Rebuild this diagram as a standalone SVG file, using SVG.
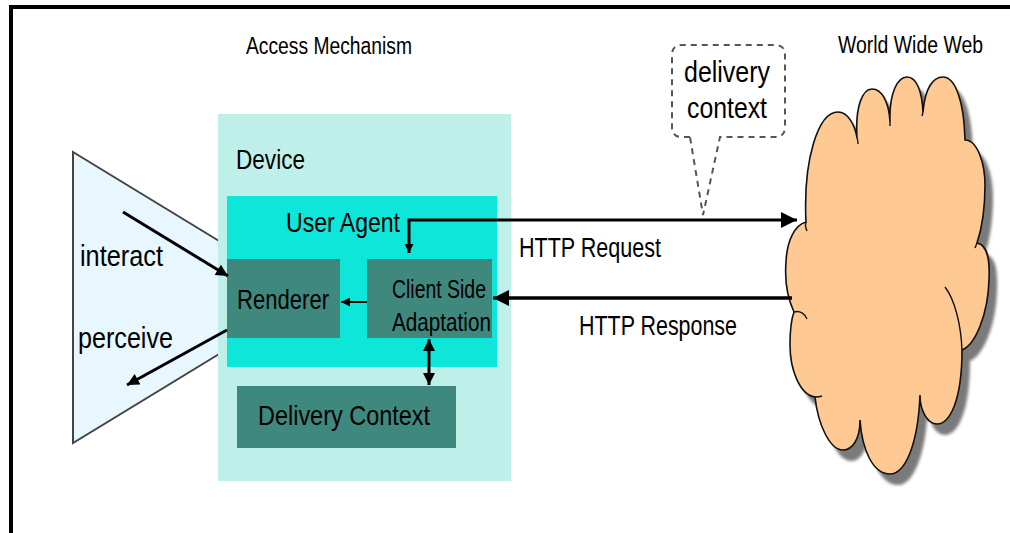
<svg xmlns="http://www.w3.org/2000/svg" width="1010" height="533" viewBox="0 0 1010 533">
  <style>
    .lbl { font-family: "Liberation Sans Narrow", "Liberation Sans", Arial, sans-serif; fill: #000; }
    .box { fill: #3f887e; }
    .wire { stroke: #000; fill: none; }
    .dash { stroke: #555; stroke-width: 2; stroke-dasharray: 6 5; fill: none; }
  </style>
  <defs>
    <marker id="headBig" viewBox="0 0 10 10" refX="10" refY="5" markerUnits="userSpaceOnUse" markerWidth="18" markerHeight="16" orient="auto-start-reverse">
      <path d="M0,0 L10,5 L0,10 Z" fill="#000"/>
    </marker>
    <marker id="headMid" viewBox="0 0 10 10" refX="10" refY="5" markerUnits="userSpaceOnUse" markerWidth="14" markerHeight="12" orient="auto-start-reverse">
      <path d="M0,0 L10,5 L0,10 Z" fill="#000"/>
    </marker>
    <marker id="headSmall" viewBox="0 0 10 10" refX="10" refY="5" markerUnits="userSpaceOnUse" markerWidth="9" markerHeight="9" orient="auto-start-reverse">
      <path d="M0,0 L10,5 L0,10 Z" fill="#000"/>
    </marker>
    <filter id="soft" x="-10%" y="-10%" width="120%" height="120%">
      <feGaussianBlur stdDeviation="1.5"/>
    </filter>
    <path id="cloudShape" d="M806,222 C803,160 818,112 838,112 C848,112 855,125 857,138
      C855,105 863,89 872,89 C882,89 889,102 890,122
      C889,92 898,77 907,77 C917,77 922,92 923,112
      C925,88 933,77 943,77 C955,77 964,100 965,140
      C978,140 985,165 985,185 C985,210 982,228 977,243
      C988,245 990,260 989,280 C988,315 975,345 962,350
      C962,400 950,424 937,424 C927,424 920,410 920,395
      C918,445 905,474 890,474 C873,474 862,450 860,420
      C860,440 852,450 843,450 C830,450 818,425 815,397
      C800,395 790,370 790,345 C790,330 791,320 794,312
      C786,295 785,275 786,262 C787,240 795,225 806,222 Z"/>
  </defs>

  <rect width="1010" height="533" fill="#fff"/>
  <!-- page frame -->
  <path d="M11,533 V7 H1010" stroke="#000" stroke-width="4" fill="none"/>

  <!-- section titles -->
  <text class="lbl" x="246" y="54" font-size="23" textLength="166" lengthAdjust="spacingAndGlyphs">Access Mechanism</text>
  <text class="lbl" x="838" y="53" font-size="23" textLength="145" lengthAdjust="spacingAndGlyphs">World Wide Web</text>

  <!-- user (viewing cone) -->
  <g id="user">
    <path d="M73,152 L224,244 L224,351 L73,443 Z" fill="#e8f6fd" stroke="#444" stroke-width="2"/>
    <text class="lbl" x="80" y="266" font-size="29" textLength="83" lengthAdjust="spacingAndGlyphs">interact</text>
    <text class="lbl" x="78" y="348" font-size="29" textLength="95" lengthAdjust="spacingAndGlyphs">perceive</text>
  </g>

  <!-- device -->
  <g id="device">
    <rect x="218" y="114" width="293" height="367" fill="#beefe9"/>
    <text class="lbl" x="236" y="169" font-size="28" textLength="69" lengthAdjust="spacingAndGlyphs">Device</text>
  </g>

  <g id="user-agent">
    <rect x="227" y="196" width="270" height="171" fill="#0ee6da"/>
    <text class="lbl" x="286" y="232" font-size="28" textLength="114" lengthAdjust="spacingAndGlyphs">User Agent</text>
  </g>

  <g id="renderer">
    <rect class="box" x="227" y="259" width="113" height="79"/>
    <text class="lbl" x="237" y="309" font-size="27" textLength="92" lengthAdjust="spacingAndGlyphs">Renderer</text>
  </g>

  <g id="client-side-adaptation">
    <rect class="box" x="367" y="259" width="125" height="79"/>
    <text class="lbl" x="392" y="298" font-size="25" textLength="94" lengthAdjust="spacingAndGlyphs">Client Side</text>
    <text class="lbl" x="392" y="331" font-size="25" textLength="99" lengthAdjust="spacingAndGlyphs">Adaptation</text>
  </g>

  <g id="delivery-context">
    <rect class="box" x="237" y="386" width="219" height="62"/>
    <text class="lbl" x="258" y="425" font-size="28" textLength="172" lengthAdjust="spacingAndGlyphs">Delivery Context</text>
  </g>

  <!-- web cloud -->
  <g id="world-wide-web">
    <use href="#cloudShape" transform="translate(8,11)" fill="#7a7a7a" filter="url(#soft)"/>
    <use href="#cloudShape" fill="#fec992" stroke="#111" stroke-width="1.6"/>
    <path d="M945,287 C955,300 961,325 962,350" stroke="#111" stroke-width="1.4" fill="none"/>
    <path d="M794,312 C800,310 805,314 807,319" stroke="#111" stroke-width="1.4" fill="none"/>
    <path d="M806,222 C805,225 806,229 807,231" stroke="#111" stroke-width="1.4" fill="none"/>
    <path d="M815,397 C818,397 820,397 822,396" stroke="#111" stroke-width="1.4" fill="none"/>
    <path d="M857,138 C858,140 858,142 858,144" stroke="#111" stroke-width="1.4" fill="none"/>
    <path d="M890,122 L890,126" stroke="#111" stroke-width="1.4" fill="none"/>
    <path d="M923,112 L922,116" stroke="#111" stroke-width="1.4" fill="none"/>
    <path d="M977,243 L975,248" stroke="#111" stroke-width="1.4" fill="none"/>
  </g>

  <!-- delivery context callout -->
  <g id="callout">
    <path class="dash" d="M690,137 H682 Q672,137 672,127 V55 Q672,45 682,45 H775 Q785,45 785,55 V127 Q785,137 775,137 H720 L703,215 L690,137" fill="#fff"/>
    <text class="lbl" x="684" y="82" font-size="29" textLength="86" lengthAdjust="spacingAndGlyphs">delivery</text>
    <text class="lbl" x="687" y="118" font-size="29" textLength="80" lengthAdjust="spacingAndGlyphs">context</text>
  </g>

  <!-- connectors -->
  <g id="connectors">
    <line class="wire" x1="123" y1="212" x2="228" y2="276" stroke-width="3" marker-end="url(#headMid)"/>
    <line class="wire" x1="227" y1="330" x2="127" y2="385" stroke-width="3" marker-end="url(#headMid)"/>
    <path class="wire" d="M409,253 V220 H797" stroke-width="3" marker-start="url(#headSmall)" marker-end="url(#headBig)"/>
    <line class="wire" x1="792" y1="298" x2="493" y2="298" stroke-width="3.5" marker-end="url(#headBig)"/>
    <line class="wire" x1="367" y1="302" x2="341" y2="302" stroke-width="2" marker-end="url(#headSmall)"/>
    <line class="wire" x1="429" y1="339" x2="429" y2="385" stroke-width="3" marker-start="url(#headMid)" marker-end="url(#headMid)"/>
  </g>

  <text class="lbl" x="519" y="257" font-size="27" textLength="142" lengthAdjust="spacingAndGlyphs">HTTP Request</text>
  <text class="lbl" x="579" y="335" font-size="27" textLength="158" lengthAdjust="spacingAndGlyphs">HTTP Response</text>
</svg>
